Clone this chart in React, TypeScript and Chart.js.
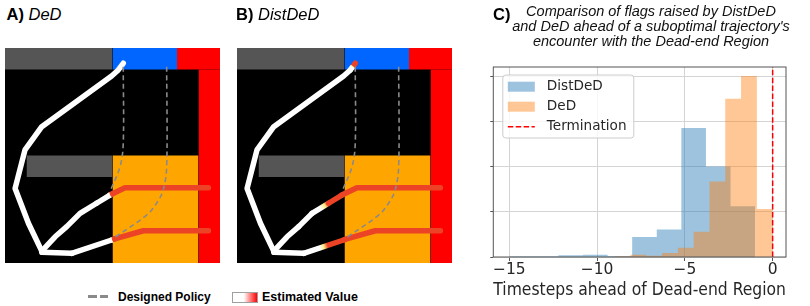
import React, { useEffect, useRef } from 'react';
import { Chart, registerables } from 'chart.js';

Chart.register(...registerables);

// ---------------- Panel C: histogram data ----------------
const distdedBinEdges = [-15, -13.6, -12.2, -10.8, -9.4, -8.0, -6.6, -5.2, -3.8, -2.4, -1.0];
const distdedHeights = [0.015, 0.015, 0.037, 0.052, 0.022, 0.444, 0.607, 2.85, 2.0, 1.12];
const dedBinEdges = [-9, -8.1, -7.2, -6.3, -5.4, -4.5, -3.6, -2.7, -1.8, -0.9, 0];
const dedHeights = [0.015, 0.052, 0.03, 0.089, 0.207, 0.556, 1.667, 3.5, 4.0, 1.06];
const terminationX = 0;
const seriesLabels = ['DistDeD', 'DeD', 'Termination'];
const xTickValues = [-15, -10, -5, 0];
const yTickValues = [0, 1, 2, 3, 4];
const xRange = [-15.91, 0.76];
const yRange = [0, 4.2];
const titleLines = [
  'Comparison of flags raised by DistDeD',
  "and DeD ahead of a suboptimal trajectory's",
  'encounter with the Dead-end Region',
];
const xAxisLabel = 'Timesteps ahead of Dead-end Region';

// ---------------- Panels A / B: grid world ----------------
const regionKinds = ['floor', 'wall', 'goal', 'deadEnd', 'deadEnd', 'risk', 'wall'];
const regionX0 = [0, 0, 5, 8, 9, 5, 1];
const regionX1 = [10, 5, 8, 10, 10, 9, 5];
const regionY0 = [0, 0, 0, 0, 1, 5, 5];
const regionY1 = [10, 1, 1, 1, 10, 10, 6];

const loopX = [5.5, 5.27, 4.96, 1.71, 0.93, 0.47, 1.09, 1.71];
const loopY = [0.71, 1.02, 1.3, 3.66, 4.74, 6.53, 8.15, 9.45];
const upperX = [1.71, 2.33, 2.87, 3.49, 4.26, 4.88, 5.0, 5.58, 9.46];
const upperY = [9.45, 8.78, 8.31, 7.69, 7.22, 6.84, 6.78, 6.5, 6.5];
const lowerX = [1.71, 3.1, 4.96, 5.1, 6.43, 9.46];
const lowerY = [9.5, 9.55, 8.93, 8.88, 8.5, 8.5];
const policy1X = [5.5, 5.5, 5.35, 4.88];
const policy1Y = [0.87, 4.43, 5.52, 6.68];
const policy2X = [7.52, 7.52, 7.36, 7.05, 6.59, 5.12];
const policy2Y = [0.87, 5.52, 6.6, 7.22, 7.77, 8.8];

const dedLoopValues = [0, 0, 0, 0, 0, 0, 0, 0];
const dedUpperValues = [0, 0, 0, 0, 0, 0.4, 1, 1, 1];
const dedLowerValues = [0, 0, 0.4, 1, 1, 1];
const distLoopValues = [1, 0, 0, 0, 0, 0, 0, 0];
const distUpperValues = [0, 0, 0, 0.2, 0.6, 1, 1, 1, 1];
const distLowerValues = [0, 0, 1, 1, 1, 1];

// ---------------- styles ----------------
const regionColors: Record<string, string> = {
  floor: '#000000',
  wall: '#555555',
  goal: '#0066ff',
  deadEnd: '#ff0000',
  risk: '#ffa500',
};
const cmapStops = [0, 0.4, 0.5, 0.6, 1];
const cmapColors = ['#ffffff', '#ffffff', '#fff08a', '#ec4326', '#ec4326'];

function hexToRgb(h: string) {
  return [parseInt(h.slice(1, 3), 16), parseInt(h.slice(3, 5), 16), parseInt(h.slice(5, 7), 16)];
}
function cmap(v: number) {
  for (let i = 0; i < cmapStops.length - 1; i++) {
    const a = cmapStops[i], b = cmapStops[i + 1];
    if (v <= b || i === cmapStops.length - 2) {
      const t = b === a ? 0 : Math.min(1, Math.max(0, (v - a) / (b - a)));
      const c0 = hexToRgb(cmapColors[i]), c1 = hexToRgb(cmapColors[i + 1]);
      const c = c0.map((x, k) => Math.round(x + (c1[k] - x) * t));
      return `rgb(${c[0]},${c[1]},${c[2]})`;
    }
  }
  return cmapColors[cmapColors.length - 1];
}

function segmentColor(ctx: any, vals: number[]) {
  const v0 = vals[ctx.p0DataIndex], v1 = vals[ctx.p1DataIndex];
  if (v0 === v1) return cmap(v0);
  const g = ctx.chart.ctx.createLinearGradient(ctx.p0.x, ctx.p0.y, ctx.p1.x, ctx.p1.y);
  const stops: [number, number][] = [[0, v0], [1, v1]];
  cmapStops.forEach((s) => {
    const t = (s - v0) / (v1 - v0);
    if (t > 0 && t < 1) stops.push([t, s]);
  });
  stops.sort((a, b) => a[0] - b[0]);
  stops.forEach(([t, v]) => g.addColorStop(t, cmap(v)));
  return g;
}

function pts(xs: number[], ys: number[]) {
  return xs.map((x, i) => ({ x, y: ys[i] }));
}

function gridConfig(loopVals: number[], upperVals: number[], lowerVals: number[]): any {
  const datasets: any[] = [];
  regionKinds.forEach((kind, i) => {
    datasets.push({
      data: pts([regionX0[i], regionX1[i]], [regionY0[i], regionY0[i]]),
      fill: { value: regionY1[i] },
      backgroundColor: regionColors[kind],
      borderColor: 'transparent',
      borderWidth: 0,
      pointRadius: 0,
    });
  });
  const paths: [number[], number[], number[]][] = [
    [loopX, loopY, loopVals],
    [upperX, upperY, upperVals],
    [lowerX, lowerY, lowerVals],
  ];
  paths.forEach(([xs, ys, vals]) => {
    datasets.push({
      data: pts(xs, ys),
      fill: false,
      borderColor: '#ffffff',
      borderWidth: 5.5,
      borderCapStyle: 'round',
      borderJoinStyle: 'round',
      pointRadius: 0,
      tension: 0,
      segment: { borderColor: (c: any) => segmentColor(c, vals) },
    });
  });
  [[policy1X, policy1Y], [policy2X, policy2Y]].forEach(([xs, ys]) => {
    datasets.push({
      data: pts(xs, ys),
      fill: false,
      borderColor: '#8a8a8a',
      borderWidth: 1.6,
      borderDash: [5, 3.5],
      pointRadius: 0,
      tension: 0.35,
    });
  });
  datasets.forEach((d, i) => (d.order = datasets.length - i));
  return {
    type: 'line',
    data: { datasets },
    options: {
      animation: false,
      responsive: false,
      events: [],
      layout: { padding: 0 },
      elements: { point: { radius: 0 } },
      scales: {
        x: { type: 'linear', min: 0, max: 10, display: false },
        y: { type: 'linear', min: 0, max: 10, reverse: true, display: false },
      },
      plugins: { legend: { display: false }, tooltip: { enabled: false }, title: { display: false } },
    },
  };
}

function histPoints(edges: number[], heights: number[]) {
  return edges.map((e, i) => ({ x: e, y: heights[Math.min(i, heights.length - 1)] }));
}

const framePlugin = {
  id: 'frame',
  afterDatasetsDraw(chart: any) {
    const { ctx, chartArea } = chart;
    ctx.save();
    ctx.strokeStyle = '#555555';
    ctx.lineWidth = 1;
    ctx.strokeRect(chartArea.left, chartArea.top, chartArea.right - chartArea.left, chartArea.bottom - chartArea.top);
    ctx.restore();
  },
};

const histLegendPlugin = {
  id: 'histLegend',
  afterDraw(chart: any) {
    const { ctx, chartArea } = chart;
    const x0 = chartArea.left + 9.5, y0 = chartArea.top + 8, w = 131, h = 63;
    ctx.save();
    ctx.beginPath();
    ctx.roundRect(x0, y0, w, h, 3);
    ctx.fillStyle = 'rgba(255,255,255,0.8)';
    ctx.fill();
    ctx.strokeStyle = '#cccccc';
    ctx.lineWidth = 1;
    ctx.stroke();
    chart.data.datasets.forEach((ds: any, i: number) => {
      const cy = y0 + 11.7 + i * 20;
      if (ds.fill) {
        ctx.fillStyle = ds.backgroundColor;
        ctx.fillRect(x0 + 5, cy - 5, 27, 10);
      } else {
        ctx.beginPath();
        ctx.setLineDash(ds.borderDash || []);
        ctx.strokeStyle = ds.borderColor;
        ctx.lineWidth = ds.borderWidth;
        ctx.moveTo(x0 + 5, cy);
        ctx.lineTo(x0 + 32, cy);
        ctx.stroke();
        ctx.setLineDash([]);
      }
      ctx.fillStyle = '#262626';
      ctx.font = '13.6px "DejaVu Sans"';
      ctx.textBaseline = 'middle';
      ctx.textAlign = 'left';
      ctx.fillText(ds.label, x0 + 44, cy);
    });
    ctx.restore();
  },
};

const minusFmt = (v: number) => (v < 0 ? '\u2212' + Math.abs(v) : String(v));

function histConfig(): any {
  return {
    type: 'line',
    data: {
      datasets: [
        {
          label: seriesLabels[0],
          data: histPoints(distdedBinEdges, distdedHeights),
          stepped: true,
          fill: 'origin',
          backgroundColor: 'rgba(31,119,180,0.44)',
          borderColor: 'transparent',
          borderWidth: 0,
          pointRadius: 0,
          order: 3,
        },
        {
          label: seriesLabels[1],
          data: histPoints(dedBinEdges, dedHeights),
          stepped: true,
          fill: 'origin',
          backgroundColor: 'rgba(255,127,14,0.44)',
          borderColor: 'transparent',
          borderWidth: 0,
          pointRadius: 0,
          order: 2,
        },
        {
          label: seriesLabels[2],
          data: [{ x: terminationX, y: yRange[0] }, { x: terminationX, y: yRange[1] }],
          fill: false,
          borderColor: '#ff0000',
          borderWidth: 1.5,
          borderDash: [5.5, 2.4],
          pointRadius: 0,
          order: 1,
        },
      ],
    },
    options: {
      animation: false,
      responsive: false,
      events: [],
      layout: { padding: { left: 16, right: 0, top: 0, bottom: 0 } },
      elements: { point: { radius: 0 } },
      scales: {
        x: {
          type: 'linear',
          min: xRange[0],
          max: xRange[1],
          afterBuildTicks: (s: any) => {
            s.ticks = xTickValues.map((v) => ({ value: v }));
          },
          ticks: {
            callback: (v: any) => minusFmt(Number(v)),
            font: { family: 'DejaVu Sans', size: 15.5 },
            color: '#262626',
            padding: 0,
            maxRotation: 0,
            autoSkip: false,
          },
          grid: { color: '#d4d4d4', lineWidth: 1, tickColor: '#555555', tickLength: 4 },
          border: { display: false },
          title: {
            display: true,
            text: xAxisLabel,
            font: { family: 'DejaVu Sans', size: 17 },
            color: '#262626',
            padding: { top: 0, bottom: 5 },
          },
          afterFit: (s: any) => {
            s.height = 49;
          },
        },
        y: {
          type: 'linear',
          min: yRange[0],
          max: yRange[1],
          afterBuildTicks: (s: any) => {
            s.ticks = yTickValues.map((v) => ({ value: v }));
          },
          ticks: { display: false },
          grid: { color: '#d4d4d4', lineWidth: 1, tickColor: '#555555', tickLength: 3 },
          border: { display: false },
          afterFit: (s: any) => {
            s.width = 1.3;
          },
        },
        yRight: {
          type: 'linear',
          position: 'right',
          display: true,
          grid: { display: false },
          ticks: { display: false },
          border: { display: false },
          afterFit: (s: any) => {
            s.width = 24;
          },
        },
      },
      plugins: {
        legend: { display: false },
        tooltip: { enabled: false },
        title: {
          display: true,
          text: titleLines,
          font: { family: 'Liberation Sans', size: 14.5, style: 'italic', weight: 'normal', lineHeight: 15 / 14.5 },
          color: '#111111',
          padding: { top: 4, bottom: 18 },
        },
      },
    },
    plugins: [framePlugin, histLegendPlugin],
  };
}

function ChartCanvas(props: { make: () => any; left: number; top: number; width: number; height: number }) {
  const ref = useRef<HTMLCanvasElement>(null);
  useEffect(() => {
    const chart = new Chart(ref.current as HTMLCanvasElement, props.make());
    return () => chart.destroy();
  }, []);
  return (
    <canvas
      ref={ref}
      width={props.width}
      height={props.height}
      style={{ position: 'absolute', left: props.left, top: props.top, width: props.width, height: props.height, display: 'block' }}
    />
  );
}

const sans = '"Liberation Sans", Arial, Helvetica, sans-serif';

function PanelLabel(props: { left: number; letter: string; name?: string }) {
  return (
    <div
      style={{
        position: 'absolute',
        left: props.left,
        top: 5.5,
        fontFamily: sans,
        fontSize: 16.5,
        lineHeight: '16.5px',
        color: '#000',
        whiteSpace: 'nowrap',
      }}
    >
      <span style={{ fontWeight: 'bold' }}>{props.letter}</span>
      {props.name ? <span style={{ fontStyle: 'italic' }}> {props.name}</span> : null}
    </div>
  );
}

export default function App() {
  return (
    <div style={{ position: 'absolute', left: 0, top: 0, width: 810, height: 306, background: '#fff', overflow: 'hidden' }}>
      <ChartCanvas make={() => gridConfig(dedLoopValues, dedUpperValues, dedLowerValues)} left={5} top={48} width={215} height={215} />
      <ChartCanvas make={() => gridConfig(distLoopValues, distUpperValues, distLowerValues)} left={237} top={48} width={215} height={215} />
      <ChartCanvas make={histConfig} left={476} top={0} width={334} height={306} />
      <PanelLabel left={6.5} letter="A)" name="DeD" />
      <PanelLabel left={236} letter="B)" name="DistDeD" />
      <PanelLabel left={493} letter="C)" />
      {/* bottom legend */}
      <div style={{ position: 'absolute', left: 88, top: 294.5, width: 9, height: 3, background: '#8a8a8a' }} />
      <div style={{ position: 'absolute', left: 100, top: 294.5, width: 8, height: 3, background: '#8a8a8a' }} />
      <div
        style={{
          position: 'absolute',
          left: 118,
          top: 290.5,
          fontFamily: sans,
          fontWeight: 'bold',
          fontSize: 12,
          lineHeight: '12px',
          whiteSpace: 'nowrap',
          color: '#000',
        }}
      >
        Designed Policy
      </div>
      <div
        style={{
          position: 'absolute',
          left: 232,
          top: 291.5,
          width: 24,
          height: 9,
          border: '1px solid #a0a0a0',
          background: 'linear-gradient(to right, #ffffff 0%, #ffffff 45%, #ff0000 100%)',
        }}
      />
      <div
        style={{
          position: 'absolute',
          left: 262,
          top: 290.5,
          fontFamily: sans,
          fontWeight: 'bold',
          fontSize: 12.5,
          lineHeight: '12px',
          whiteSpace: 'nowrap',
          color: '#000',
        }}
      >
        Estimated Value
      </div>
    </div>
  );
}
